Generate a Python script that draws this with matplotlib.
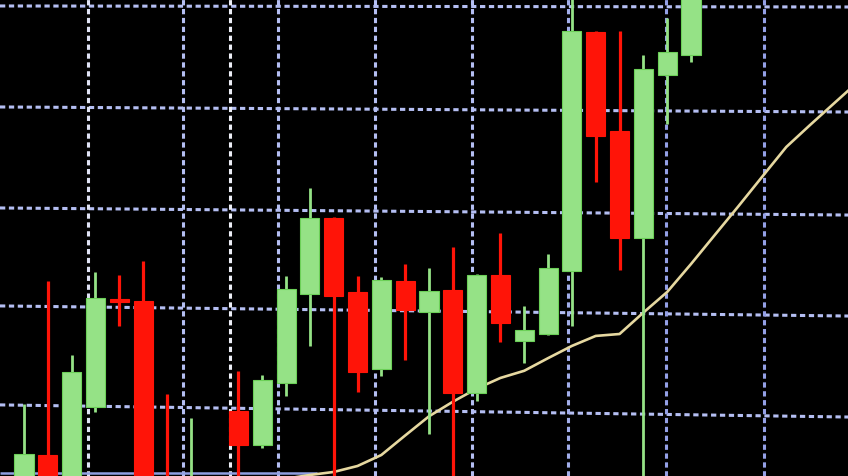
import matplotlib
matplotlib.use("Agg")
import matplotlib.pyplot as plt
from matplotlib.patches import Rectangle

# ---- data (price units) ----
opens  = [91.3, 95.6, 91.5, 100.4, 111.1, 110.9, 92.0, 90.5, 91.0, 100.0,
          96.6, 102.8, 111.6, 119.1, 111.8, 104.2, 112.9, 109.8, 112.0, 101.8,
          113.5, 106.9, 107.6, 113.9, 137.5, 127.7, 117.1, 133.3, 135.2]
highs  = [100.7, 112.9, 105.5, 113.8, 113.5, 114.8, 101.7, 99.3, 93.2, 104.0,
          103.6, 113.4, 122.1, 119.2, 113.4, 113.3, 114.6, 114.2, 116.2, 113.6,
          117.6, 110.4, 115.5, 142.0, 137.6, 137.6, 135.2, 138.9, 144.0]
lows   = [90.5, 90.0, 90.8, 99.9, 108.4, 89.8, 89.5, 90.0, 90.5, 90.0,
          96.3, 101.5, 106.4, 91.0, 101.9, 103.5, 105.0, 97.7, 90.5, 101.0,
          106.8, 104.7, 107.5, 108.4, 122.7, 114.0, 93.0, 128.4, 134.6]
closes = [95.7, 91.0, 103.9, 111.2, 110.8, 90.5, 90.0, 92.5, 92.8, 96.6,
          103.1, 112.1, 119.1, 111.4, 103.9, 113.0, 110.0, 111.9, 101.8, 113.5,
          108.7, 108.0, 114.2, 137.6, 127.2, 117.1, 133.9, 135.5, 142.5]

moving_avg = [90.0, 90.1, 90.3, 90.5, 90.7, 90.9, 91.2, 91.5, 91.9, 92.3,
              92.8, 93.3, 93.66, 93.96, 94.55, 95.64, 97.57, 99.47, 100.91, 102.21,
              103.27, 103.98, 105.23, 106.44, 107.43, 107.62, 109.74, 111.78, 114.55, 117.43,
              120.30, 123.23, 126.14, 128.32, 130.45, 132.57]

base_line_level = 93.86

# ---- layout / style ----
XMIN, XMAX = -1.0076, 34.59
YMIN, YMAX = 93.56, 140.79
GREEN = "#95e286"
GREEN_EDGE = "#6cd058"
RED = "#ff1408"
GRID_BLUE = "#b4bef2"

h_grid_left = [140.1, 130.1, 120.1, 110.4, 100.6]
h_grid_right = [140.0, 129.6, 119.4, 109.4, 99.4]
v_grid = [2.687, 6.675, 8.648, 10.663, 14.735, 18.808, 22.838, 26.952, 31.066]
v_grid_colors = ["#dfe2f4", GRID_BLUE, "#eceef6", GRID_BLUE, GRID_BLUE,
                 GRID_BLUE, "#a2aeea", "#94a0e6", "#94a0e6"]

plt.rcParams["lines.scale_dashes"] = False

fig = plt.figure(figsize=(8.48, 4.77), dpi=100)
fig.patch.set_facecolor("black")
ax = fig.add_axes([0, 0, 1, 1])
ax.set_facecolor("black")
ax.set_xlim(XMIN, XMAX)
ax.set_ylim(YMIN, YMAX)
ax.axis("off")

dash = (0, (3.8, 2.6))
for yl, yr in zip(h_grid_left, h_grid_right):
    ax.plot([XMIN, XMAX], [yl, yr], color=GRID_BLUE, lw=2.2,
            linestyle=dash, zorder=1)
for xv, c in zip(v_grid, v_grid_colors):
    ax.plot([xv, xv], [YMIN, YMAX], color=c, lw=2.2, linestyle=dash, zorder=1)

# bottom solid line
ax.plot([XMIN, 12.3], [base_line_level, base_line_level], color="#8f9fe2",
        lw=1.8, zorder=2, solid_capstyle="butt")

# moving average
ax.plot(range(len(moving_avg)), moving_avg, color="#e6d8a0", lw=1.9, zorder=3)

# candles
bw = 0.8
for i, (o, h, l, c) in enumerate(zip(opens, highs, lows, closes)):
    up = c >= o
    col = GREEN if up else RED
    ax.plot([i, i], [l, h], color=col, lw=2.0 if up else 2.3, zorder=4,
            solid_capstyle="butt")
    bottom = min(o, c)
    height = max(abs(c - o), 0.25)
    ax.add_patch(Rectangle((i - bw / 2, bottom), bw, height,
                           facecolor=col, edgecolor=GREEN_EDGE if up else col,
                           lw=0.8, zorder=5))

fig.savefig("out.png", dpi=100, facecolor="black")
